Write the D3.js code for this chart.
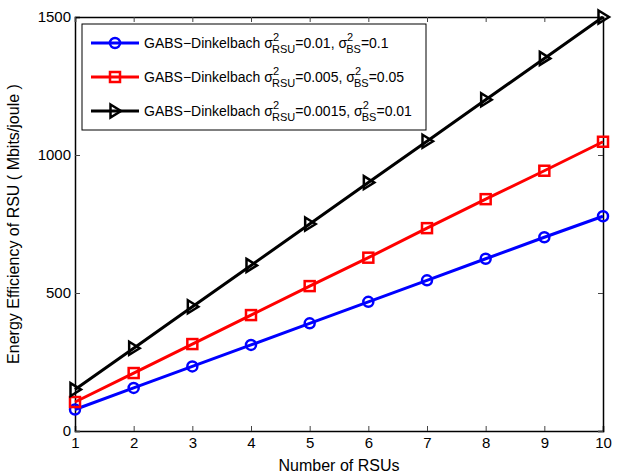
<!DOCTYPE html>
<html>
<head>
<meta charset="utf-8">
<script src="https://cdn.jsdelivr.net/npm/d3@7"></script>
<style>
  body { margin: 0; background: #fff; }
  svg text { font-family: "Liberation Sans", Arial, sans-serif; }
</style>
</head>
<body>
<div id="chart"></div>
<script>
// Data
const rsus = [1, 2, 3, 4, 5, 6, 7, 8, 9, 10]
const blueVals = [78, 156, 234, 312, 390, 468, 546, 624, 702, 778]
const redVals = [105, 210, 315, 420, 525, 628, 735, 840, 943, 1048]
const blackVals = [150, 300, 450, 600, 750, 900, 1050, 1200, 1350, 1500]
const yTicks = [0, 500, 1000, 1500]

const series = [
  { vals: blueVals, color: '#0000ff', marker: 'circle', rsu: '0.01', bs: '0.1' },
  { vals: redVals, color: '#ff0000', marker: 'square', rsu: '0.005', bs: '0.05' },
  { vals: blackVals, color: '#000000', marker: 'triangle', rsu: '0.0015', bs: '0.01' },
]

const width = 618, height = 474
const m = { left: 75, right: 15, top: 17, bottom: 43 }
const w = width - m.left - m.right
const h = height - m.top - m.bottom

const svg = d3.select('#chart').append('svg')
  .attr('width', width)
  .attr('height', height)

const ctr = svg.append('g')
  .attr('transform', `translate(${m.left},${m.top})`)

const x = d3.scaleLinear().domain([1, 10]).range([0, w])
const y = d3.scaleLinear().domain([0, 1500]).range([h, 0])

// axes (ticks inward, mirrored on top/right)
const xAxis = ctr.append('g').attr('transform', `translate(0,${h})`)
  .call(d3.axisBottom(x).tickValues(rsus).tickSize(-5).tickPadding(6).tickFormat(d3.format('d')))
const yAxis = ctr.append('g')
  .call(d3.axisLeft(y).tickValues(yTicks).tickSize(-5).tickPadding(4).tickFormat(d3.format('d')))
ctr.append('g')
  .call(d3.axisTop(x).tickValues(rsus).tickSize(-5).tickFormat(''))
ctr.append('g').attr('transform', `translate(${w},0)`)
  .call(d3.axisRight(y).tickValues(yTicks).tickSize(-5).tickFormat(''))

ctr.selectAll('.domain').attr('stroke', '#000').attr('stroke-width', 1.5)
ctr.selectAll('.tick line').attr('stroke', '#444')
ctr.selectAll('.tick text').attr('fill', '#000').style('font-size', '15px')
  .style('font-family', '"Liberation Sans", Arial, sans-serif')

ctr.append('text')
  .attr('x', w / 2).attr('y', h + 40)
  .attr('text-anchor', 'middle')
  .style('font-size', '16px')
  .text('Number of RSUs')

ctr.append('text')
  .attr('transform', `translate(${-56},${h / 2}) rotate(-90)`)
  .attr('text-anchor', 'middle')
  .style('font-size', '16px')
  .text('Energy Efficiency of RSU ( Mbits/joule )')

function drawMarker(g, type, color, cx, cy) {
  if (type === 'circle') {
    g.append('circle').attr('cx', cx).attr('cy', cy).attr('r', 5)
      .attr('fill', 'none').attr('stroke', color).attr('stroke-width', 2.5)
  } else if (type === 'square') {
    g.append('rect').attr('x', cx - 5).attr('y', cy - 5).attr('width', 10).attr('height', 10)
      .attr('fill', 'none').attr('stroke', color).attr('stroke-width', 2.5)
  } else {
    g.append('path').attr('d', `M${cx - 4.5},${cy - 6.5}L${cx + 6},${cy}L${cx - 4.5},${cy + 6.5}Z`)
      .attr('fill', 'none').attr('stroke', color).attr('stroke-width', 2.5)
  }
}

const line = d3.line().x((d, i) => x(rsus[i])).y(d => y(d))

series.forEach(s => {
  ctr.append('path').datum(s.vals)
    .attr('d', line)
    .attr('fill', 'none')
    .attr('stroke', s.color)
    .attr('stroke-width', 3)
  const g = ctr.append('g')
  s.vals.forEach((v, i) => drawMarker(g, s.marker, s.color, x(rsus[i]), y(v)))
})

// legend
const lg = ctr.append('g').attr('transform', 'translate(7,7)')
lg.append('rect').attr('width', 344).attr('height', 106)
  .attr('fill', '#fff').attr('stroke', '#000').attr('stroke-width', 1)

series.forEach((s, i) => {
  const ly = 19 + i * 34
  lg.append('line').attr('x1', 9).attr('x2', 57).attr('y1', ly).attr('y2', ly)
    .attr('stroke', s.color).attr('stroke-width', 3)
  drawMarker(lg, s.marker, s.color, 33, ly)
  const t = lg.append('text').attr('x', 62).attr('y', ly + 5).style('font-size', '14px')
  t.append('tspan').text('GABS\u2212Dinkelbach \u03c3')
  t.append('tspan').attr('dy', -7).style('font-size', '11px').text('2')
  t.append('tspan').attr('dx', -7).attr('dy', 12).style('font-size', '11px').text('RSU')
  t.append('tspan').attr('dy', -5).text('=' + s.rsu + ', \u03c3')
  t.append('tspan').attr('dy', -7).style('font-size', '11px').text('2')
  t.append('tspan').attr('dx', -7).attr('dy', 12).style('font-size', '11px').text('BS')
  t.append('tspan').attr('dy', -5).text('=' + s.bs)
})
</script>
</body>
</html>
